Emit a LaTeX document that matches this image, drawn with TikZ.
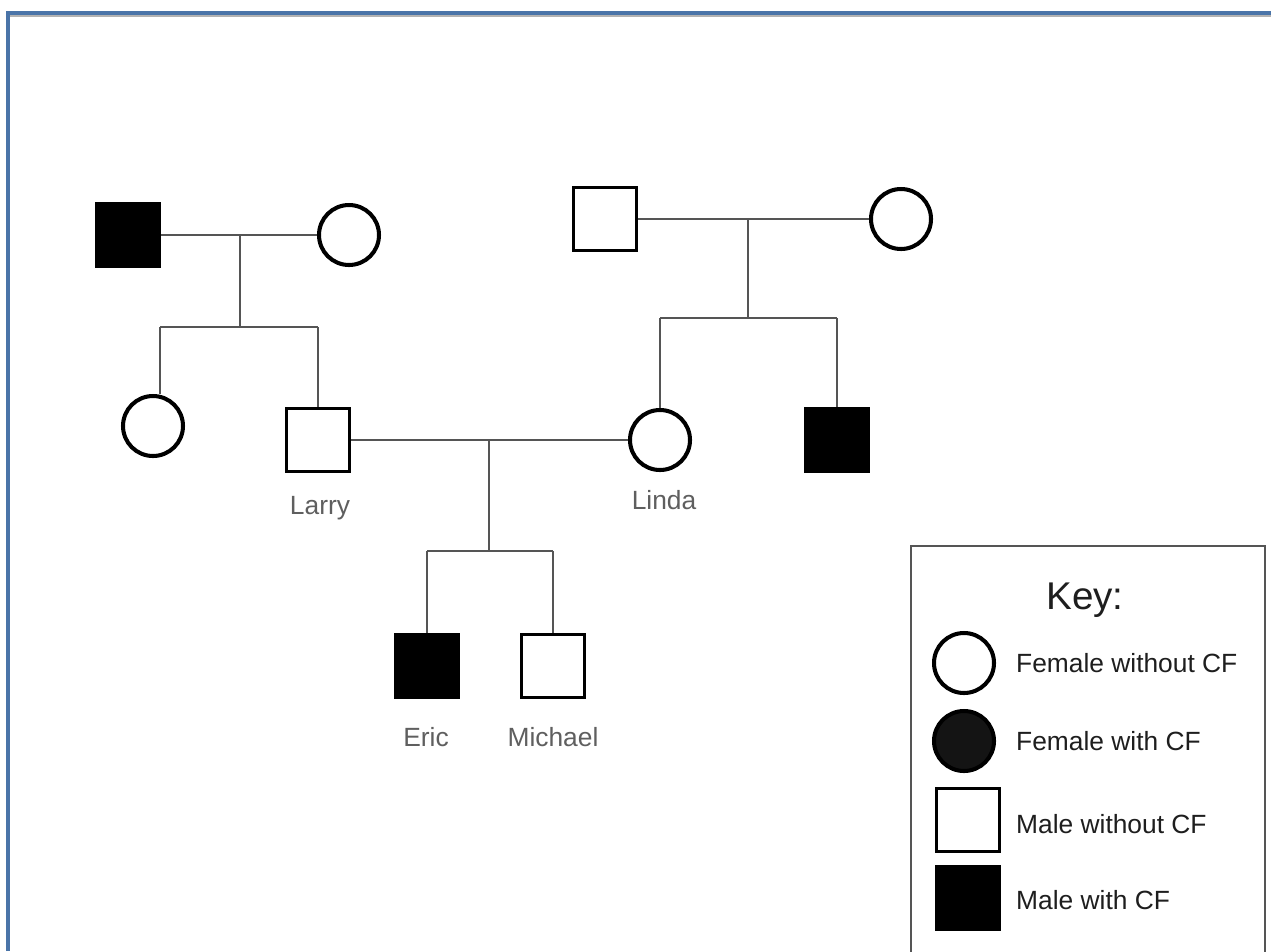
\documentclass[tikz,border=0pt]{standalone}
\usepackage{fontspec}
\setmainfont{Liberation Sans}
\definecolor{frameblue}{RGB}{74,116,168}
\definecolor{conn}{RGB}{85,85,85}
\definecolor{lbl}{RGB}{95,95,95}
\definecolor{keytxt}{RGB}{30,30,30}
\tikzset{
  male/.style={draw=black, rectangle, line width=1.8pt, minimum size=1.26cm, inner sep=0pt, fill=white},
  maleCF/.style={male, fill=black},
  female/.style={draw=black, circle, line width=2.3pt, minimum size=1.2cm, inner sep=0pt, fill=white},
  femaleCF/.style={female, fill=black!92},
  link/.style={draw=conn, line width=1.1pt},
  pname/.style={text=lbl, font=\fontsize{15}{18}\selectfont},
  keylabel/.style={text=keytxt, font=\fontsize{15}{18}\selectfont, anchor=west}
}
\begin{document}
\begin{tikzpicture}[x=0.02cm, y=-0.02cm]
\useasboundingbox (0,0) rectangle (1271,951);
\fill[white] (0,0) rectangle (1271,951);
% frame
\draw[frameblue, line width=1.8pt] (8,951) -- (8,13) -- (1271,13);
\draw[gray!60, line width=0.6pt] (10,16) -- (1271,16);

% generation 1 left
\node[maleCF] (gl) at (128,235) {};
\node[female] (gw) at (349,235) {};
\coordinate (ml) at (240,235);
\coordinate (jl) at (240,327);
\coordinate (jla) at (160,327);
\coordinate (jlb) at (318,327);
\draw[link] (gl.east) -- (gw.west);
\draw[link] (ml) -- (jl);
\draw[link] (jla) -- (jlb);

% generation 1 right
\node[male] (gr) at (605,219) {};
\node[female] (grw) at (901,219) {};
\coordinate (mr) at (748,219);
\coordinate (jr) at (748,318);
\coordinate (jra) at (660,318);
\coordinate (jrb) at (837,318);
\draw[link] (gr.east) -- (grw.west);
\draw[link] (mr) -- (jr);
\draw[link] (jra) -- (jrb);

% generation 2
\node[female] (sis) at (153,426) {};
\node[male] (larry) at (318,440) {};
\node[female] (linda) at (660,440) {};
\node[maleCF] (bro) at (837,440) {};
\draw[link] (jla) -- (jla |- sis.north);
\draw[link] (jlb) -- (larry.north);
\draw[link] (jra) -- (linda.north);
\draw[link] (jrb) -- (bro.north);
\node[pname] (larryl) at (320,508) {Larry};
\node[pname] (lindal) at (664,500) {Linda};

% couple Larry - Linda
\coordinate (mc) at (489,440);
\coordinate (jc) at (489,551);
\coordinate (jca) at (427,551);
\coordinate (jcb) at (553,551);
\draw[link] (larry.east) -- (linda.west);
\draw[link] (mc) -- (jc);
\draw[link] (jca) -- (jcb);

% generation 3
\node[maleCF] (eric) at (427,666) {};
\node[male] (mich) at (553,666) {};
\draw[link] (jca) -- (eric.north);
\draw[link] (jcb) -- (mich.north);
\node[pname] (ericl) at (426,737) {Eric};
\node[pname] (michl) at (553,737) {Michael};

% key
\draw[conn, line width=1pt] (911,960) -- (911,546) -- (1265,546) -- (1265,960);
\node[text=keytxt, font=\fontsize{22}{26}\selectfont] (keyt) at (1085,600) {Key:};
\node[female] (k1) at (964,663) {};
\node[keylabel] (k1l) at (1010,663) {Female without CF};
\node[femaleCF] (k2) at (964,741) {};
\node[keylabel] (k2l) at (1010,741) {Female with CF};
\node[male] (k3) at (968,820) {};
\node[keylabel] (k3l) at (1010,824) {Male without CF};
\node[maleCF] (k4) at (968,898) {};
\node[keylabel] (k4l) at (1010,900) {Male with CF};
\end{tikzpicture}
\end{document}
